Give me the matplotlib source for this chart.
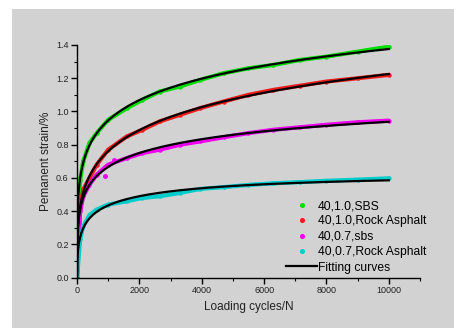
import numpy as np
import matplotlib
matplotlib.use("Agg")
import matplotlib.pyplot as plt
from matplotlib.patches import Rectangle

plt.rcParams["font.family"] = ["Liberation Sans", "DejaVu Sans"]

# === data ===
cycles = [0, 100, 200, 400, 630, 1000, 1600, 2100, 2650, 3300, 3950,
          4700, 5500, 6300, 7150, 8000, 9000, 10000]
sbs_10 = [0, 0.59, 0.70, 0.81, 0.87, 0.95, 1.02, 1.07, 1.12, 1.15, 1.19,
          1.23, 1.26, 1.28, 1.31, 1.33, 1.36, 1.39]
rock_10 = [0, 0.42, 0.53, 0.60, 0.68, 0.77, 0.85, 0.89, 0.94, 0.98, 1.02,
           1.06, 1.10, 1.13, 1.155, 1.18, 1.20, 1.22]
sbs_07 = [0, 0.40, 0.49, 0.56, 0.62, 0.68, 0.72, 0.75, 0.77, 0.80, 0.82,
          0.845, 0.87, 0.89, 0.905, 0.92, 0.935, 0.945]
rock_07 = [0, 0.23, 0.31, 0.377, 0.41, 0.44, 0.46, 0.48, 0.49, 0.51, 0.534,
           0.545, 0.558, 0.568, 0.575, 0.583, 0.59, 0.598]

# stray points off the curve
sbs_07_extra_n = [900, 1200]
sbs_07_extra_y = [0.61, 0.71]

series = [
    ("40,1.0,SBS", sbs_10, "#00dd00"),
    ("40,1.0,Rock Asphalt", rock_10, "#ee1c1c"),
    ("40,0.7,sbs", sbs_07, "#ee00ee"),
    ("40,0.7,Rock Asphalt", rock_07, "#00cccc"),
]


def fit_curve(n, y):
    """log-log quadratic fit of the test points"""
    n = np.asarray(n, float)
    y = np.asarray(y, float)
    m = n > 0
    coef = np.polyfit(np.log(n[m]), np.log(y[m]), 2)
    grid = np.linspace(1, n.max(), 3000)
    fit = np.exp(np.polyval(coef, np.log(grid)))
    return np.r_[0, grid], np.r_[0, fit]


fig = plt.figure(figsize=(4.54, 3.29), dpi=100)
fig.patch.set_facecolor("white")
fig.patches.append(Rectangle((12 / 454, 0.003), 0.974, 0.97,
                             transform=fig.transFigure, facecolor="#d2d2d2",
                             edgecolor="none", zorder=-10))

ax = fig.add_axes([77 / 454, 1 - 277.7 / 329, (420 - 77) / 454, (277.7 - 45) / 329])
ax.set_facecolor("none")

for label, vals, color in series:
    ax.plot(cycles, vals, color=color, lw=3, solid_capstyle="round", zorder=2)
    ax.plot(cycles, vals, "o", color=color, ms=2.2, ls="none", label=label, zorder=2)
ax.plot(sbs_07_extra_n, sbs_07_extra_y, "o", color="#ee00ee", ms=2.5, zorder=2)

for i, (label, vals, color) in enumerate(series):
    fx, fy = fit_curve(cycles, vals)
    ax.plot(fx, fy, color="black", lw=1.6, zorder=3,
            label="Fitting curves" if i == 0 else None)

ax.set_xlim(0, 11000)
ax.set_ylim(0, 1.4)
ax.set_xticks(np.arange(0, 10001, 2000))
ax.set_xticks(np.arange(0, 11001, 1000), minor=True)
ax.set_yticks(np.arange(0, 1.41, 0.2))
ax.set_yticks(np.arange(0, 1.41, 0.1), minor=True)
ax.set_yticklabels([f"{v:.1f}" for v in np.arange(0, 1.41, 0.2)])

for s in ("top", "right"):
    ax.spines[s].set_visible(False)
for s in ("left", "bottom"):
    ax.spines[s].set_linewidth(1.0)
ax.tick_params(which="major", direction="out", length=4, width=1, labelsize=6.5,
               pad=2, labelcolor="#222222")
ax.tick_params(which="minor", direction="out", length=2, width=0.8)

ax.set_xlabel("Loading cycles/N", fontsize=8.5, labelpad=4, color="#222222")
ax.set_ylabel("Pemanent strain/%", fontsize=8.5, labelpad=3, color="#222222")

handles, labels = ax.get_legend_handles_labels()
leg = ax.legend(handles, labels, loc="upper left", frameon=False,
                bbox_to_anchor=(280 / 454, 1 - 194 / 329),
                bbox_transform=fig.transFigure, fontsize=8.7,
                labelspacing=0.28, handlelength=2.6, handletextpad=0.05,
                markerscale=1.2, borderpad=0)

fig.savefig("out.png", dpi=100)
